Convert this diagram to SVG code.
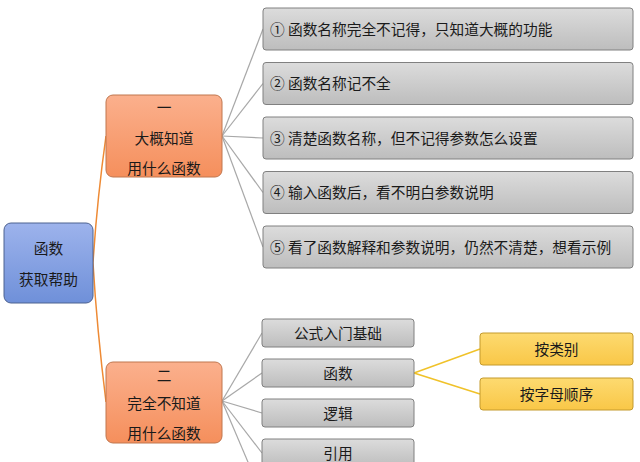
<svg xmlns="http://www.w3.org/2000/svg" width="640" height="462" viewBox="0 0 640 462">
<defs>
<linearGradient id="gBlue" x1="0" y1="0" x2="0" y2="1"><stop offset="0" stop-color="#9db3ec"/><stop offset="1" stop-color="#6f90d9"/></linearGradient>
<linearGradient id="gOrange" x1="0" y1="0" x2="0" y2="1"><stop offset="0" stop-color="#fbb08d"/><stop offset="1" stop-color="#f58f5c"/></linearGradient>
<linearGradient id="gGray" x1="0" y1="0" x2="0" y2="1"><stop offset="0" stop-color="#dcdcdc"/><stop offset="1" stop-color="#bdbdbd"/></linearGradient>
<linearGradient id="gYellow" x1="0" y1="0" x2="0" y2="1"><stop offset="0" stop-color="#fdda70"/><stop offset="1" stop-color="#f9c747"/></linearGradient>
</defs>
<style>
text{font-family:"Noto Sans CJK SC","Microsoft YaHei",sans-serif;font-size:14.7px;fill:#1a1a1a;dominant-baseline:central}
.c{text-anchor:middle}
.root{fill:url(#gBlue);stroke:#4d6290;stroke-width:1}
.lvl{fill:url(#gOrange);stroke:#c0764e;stroke-width:1}
.gray{fill:url(#gGray);stroke:#808080;stroke-width:1}
.yel{fill:url(#gYellow);stroke:#c49a2c;stroke-width:1}
.lo{fill:none;stroke:#ee8a34;stroke-width:1.5}
.lg{fill:none;stroke:#a8a8a8;stroke-width:1.2}
.ly{fill:none;stroke:#f0c22a;stroke-width:1.6}
</style>
<g id="connectors">
<path class="lo" d="M93,263 Q97,200 106,136"/>
<path class="lo" d="M93,263 Q97,330 106,402"/>
<path class="lg" d="M222,136 L263,29"/>
<path class="lg" d="M222,136 L263,83.5"/>
<path class="lg" d="M222,136 L263,138"/>
<path class="lg" d="M222,136 L263,192.5"/>
<path class="lg" d="M222,136 L263,247"/>
<path class="lg" d="M222,401 L262,333"/>
<path class="lg" d="M222,401 L262,373"/>
<path class="lg" d="M222,401 L262,413"/>
<path class="lg" d="M222,401 L262,453"/>
<path class="lg" d="M222,401 L262,495"/>
<path class="ly" d="M414,373 L480,349"/>
<path class="ly" d="M414,373 L480,394"/>
</g>
<g id="root">
<rect class="root" x="4" y="223" width="89" height="80" rx="7"/>
<text class="c" x="48.5" y="247">函数</text>
<text class="c" x="48.5" y="278">获取帮助</text>
</g>
<g id="n1">
<rect class="lvl" x="106" y="95" width="116" height="82" rx="7"/>
<text class="c" x="164" y="106">一</text>
<text class="c" x="164" y="137">大概知道</text>
<text class="c" x="164" y="167">用什么函数</text>
</g>
<g id="n2">
<rect class="lvl" x="106" y="362" width="116" height="81" rx="7"/>
<text class="c" x="164" y="374">二</text>
<text class="c" x="164" y="402">完全不知道</text>
<text class="c" x="164" y="432">用什么函数</text>
</g>
<g id="a1"><rect class="gray" x="263" y="8" width="370" height="42" rx="3"/><text x="270" y="28.5">① 函数名称完全不记得，只知道大概的功能</text></g>
<g id="a2"><rect class="gray" x="263" y="62.5" width="370" height="42" rx="3"/><text x="270" y="82.5">② 函数名称记不全</text></g>
<g id="a3"><rect class="gray" x="263" y="117" width="370" height="42" rx="3"/><text x="270" y="137.5">③ 清楚函数名称，但不记得参数怎么设置</text></g>
<g id="a4"><rect class="gray" x="263" y="171.5" width="370" height="42" rx="3"/><text x="270" y="191.5">④ 输入函数后，看不明白参数说明</text></g>
<g id="a5"><rect class="gray" x="263" y="226" width="370" height="42" rx="3"/><text x="270" y="246">⑤ 看了函数解释和参数说明，仍然不清楚，想看示例</text></g>
<g id="b1"><rect class="gray" x="262" y="319" width="152" height="28" rx="3"/><text class="c" x="338" y="332">公式入门基础</text></g>
<g id="b2"><rect class="gray" x="262" y="359" width="152" height="28" rx="3"/><text class="c" x="338" y="372">函数</text></g>
<g id="b3"><rect class="gray" x="262" y="399" width="152" height="28" rx="3"/><text class="c" x="338" y="412">逻辑</text></g>
<g id="b4"><rect class="gray" x="262" y="439" width="152" height="28" rx="3"/><text class="c" x="338" y="452">引用</text></g>
<g id="c1"><rect class="yel" x="480" y="333" width="153" height="32" rx="3"/><text class="c" x="556.5" y="348">按类别</text></g>
<g id="c2"><rect class="yel" x="480" y="378" width="153" height="32" rx="3"/><text class="c" x="556.5" y="393">按字母顺序</text></g>
</svg>
